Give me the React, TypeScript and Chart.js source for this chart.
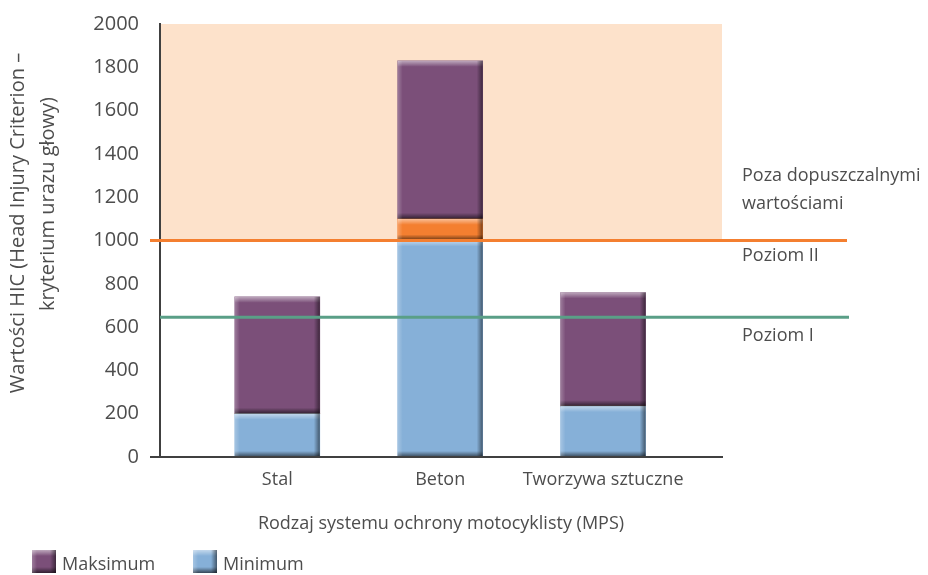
import React, { useEffect, useRef } from "react";
import { Chart, registerables } from "chart.js";

Chart.register(...registerables);

const categories = ["Stal", "Beton", "Tworzywa sztuczne"];
const minimumValues = [200, 1000, 235];
const exceedBand = [0, 100, 0];
const maximumValues = [740, 1830, 760];
const levelI = 645;
const levelII = 1000;
const yTicks = [0, 200, 400, 600, 800, 1000, 1200, 1400, 1600, 1800, 2000];

const FONT = "'Open Sans', 'Noto Sans', sans-serif";
const TEXT = "#4d4d4d";
const PURPLE = "#7b4f79";
const BLUE = "#86b0d8";
const ORANGE = "#f47f30";
const GREEN = "#5a9f87";
const SHADE = "#fde2cb";

function bevel(ctx: CanvasRenderingContext2D, l: number, t: number, r: number, b: number) {
  const h = b - t;
  const w = r - l;
  if (h <= 0 || w <= 0) return;
  const e = Math.min(6, h / 2);
  let g = ctx.createLinearGradient(0, t, 0, t + e);
  g.addColorStop(0, "rgba(255,255,255,0.5)");
  g.addColorStop(1, "rgba(255,255,255,0)");
  ctx.fillStyle = g;
  ctx.fillRect(l, t, w, e);
  g = ctx.createLinearGradient(0, b - e, 0, b);
  g.addColorStop(0, "rgba(0,0,0,0)");
  g.addColorStop(1, "rgba(0,0,0,0.6)");
  ctx.fillStyle = g;
  ctx.fillRect(l, b - e, w, e);
  g = ctx.createLinearGradient(r - 6, 0, r, 0);
  g.addColorStop(0, "rgba(0,0,0,0)");
  g.addColorStop(1, "rgba(0,0,0,0.5)");
  ctx.fillStyle = g;
  ctx.fillRect(r - 6, t, 6, h);
  g = ctx.createLinearGradient(l, 0, l + 5, 0);
  g.addColorStop(0, "rgba(255,255,255,0.25)");
  g.addColorStop(1, "rgba(255,255,255,0)");
  ctx.fillStyle = g;
  ctx.fillRect(l, t, 5, h);
}

const decorPlugin = {
  id: "decor",
  beforeDatasetsDraw(chart: any) {
    const { ctx, chartArea, scales } = chart;
    const y = scales.y;
    ctx.save();
    ctx.fillStyle = SHADE;
    const top = y.getPixelForValue(2000);
    const bot = y.getPixelForValue(levelII);
    ctx.fillRect(chartArea.left + 1, top, chartArea.right - chartArea.left - 1, bot - top);
    ctx.restore();
  },
  afterDatasetsDraw(chart: any) {
    const { ctx, chartArea, scales } = chart;
    const y = scales.y;
    ctx.save();
    chart.data.datasets.forEach((_: any, i: number) => {
      const meta = chart.getDatasetMeta(i);
      meta.data.forEach((bar: any) => {
        const p = bar.getProps(["x", "y", "base", "width"], true);
        const t = Math.min(p.y, p.base);
        const b = Math.max(p.y, p.base);
        bevel(ctx, p.x - p.width / 2, t, p.x + p.width / 2, b);
      });
    });
    const y0 = y.getPixelForValue(0);
    ctx.strokeStyle = "#404040";
    ctx.lineWidth = 2;
    ctx.beginPath();
    ctx.moveTo(150, y0);
    ctx.lineTo(chartArea.right + 1, y0);
    ctx.stroke();
    const yII = y.getPixelForValue(levelII);
    ctx.strokeStyle = ORANGE;
    ctx.lineWidth = 3;
    ctx.beginPath();
    ctx.moveTo(150, yII);
    ctx.lineTo(847, yII);
    ctx.stroke();
    const yI = y.getPixelForValue(levelI);
    ctx.strokeStyle = GREEN;
    ctx.beginPath();
    ctx.moveTo(chartArea.left, yI);
    ctx.lineTo(849, yI);
    ctx.stroke();
    ctx.restore();
  },
  afterDraw(chart: any) {
    const { ctx, chartArea } = chart;
    ctx.save();
    ctx.fillStyle = TEXT;
    ctx.font = `18px ${FONT}`;
    ctx.textBaseline = "middle";
    ctx.textAlign = "left";
    ctx.fillText("Poza dopuszczalnymi", 742, 176);
    ctx.fillText("wartościami", 742, 204);
    ctx.fillText("Poziom II", 742, 256);
    ctx.fillText("Poziom I", 742, 336);
    ctx.textAlign = "center";
    ctx.fillText("Rodzaj systemu ochrony motocyklisty (MPS)", (chartArea.left + chartArea.right) / 2, 524);
    ctx.font = `20px ${FONT}`;
    ctx.save();
    ctx.translate(18, 223);
    ctx.rotate(-Math.PI / 2);
    ctx.fillText("Wartości HIC (Head Injury Criterion –", 0, 0);
    ctx.restore();
    ctx.save();
    ctx.translate(48, 204);
    ctx.rotate(-Math.PI / 2);
    ctx.fillText("kryterium urazu głowy)", 0, 0);
    ctx.restore();
    ctx.font = `18px ${FONT}`;
    const items = [
      { label: "Maksimum", color: PURPLE, x: 32 },
      { label: "Minimum", color: BLUE, x: 193 },
    ];
    items.forEach((it) => {
      ctx.fillStyle = it.color;
      ctx.fillRect(it.x, 550, 24, 23);
      bevel(ctx, it.x, 550, it.x + 24, 573);
      ctx.fillStyle = TEXT;
      ctx.textAlign = "left";
      ctx.fillText(it.label, it.x + 30, 565);
    });
    ctx.restore();
  },
};

export default function App() {
  const ref = useRef<HTMLCanvasElement>(null);
  useEffect(() => {
    document.body.style.margin = "0";
    const canvas = ref.current;
    if (!canvas) return;
    const mk = (vals: number[]) => vals.map((v, i) => ({ x: i, y: v }));
    const maxSegment = maximumValues.map((v, i) => v - minimumValues[i] - exceedBand[i]);
    const chart = new Chart(canvas, {
      type: "bar",
      data: {
        datasets: [
          { label: "Minimum", data: mk(minimumValues), backgroundColor: BLUE, barThickness: 85 } as any,
          { label: "Przekroczenie", data: mk(exceedBand), backgroundColor: ORANGE, barThickness: 85 } as any,
          { label: "Maksimum", data: mk(maxSegment), backgroundColor: PURPLE, barThickness: 85 } as any,
        ],
      },
      options: {
        animation: false,
        responsive: false,
        layout: { padding: { top: 24, right: 206, left: 0, bottom: 0 } },
        plugins: { legend: { display: false }, tooltip: { enabled: false } },
        scales: {
          x: {
            type: "linear",
            stacked: true,
            offset: false,
            min: -0.72,
            max: 2.73,
            afterDataLimits: (s: any) => {
              s.min = -0.72;
              s.max = 2.73;
            },
            afterBuildTicks: (s: any) => {
              s.ticks = categories.map((_, i) => ({ value: i }));
            },
            afterFit: (s: any) => {
              s.height = 118;
            },
            grid: { display: false, drawTicks: false, offset: false },
            border: { display: false },
            ticks: {
              autoSkip: false,
              maxRotation: 0,
              padding: 12,
              color: TEXT,
              font: { family: FONT, size: 18 },
              callback: (v: any) => categories[v] ?? "",
            },
          },
          y: {
            stacked: true,
            min: 0,
            max: 2000,
            afterBuildTicks: (s: any) => {
              s.ticks = yTicks.map((v) => ({ value: v }));
            },
            afterFit: (s: any) => {
              s.width = 160;
            },
            grid: { display: false, drawTicks: true, tickLength: 18 },
            border: { display: true, color: "#404040", width: 2 },
            ticks: {
              padding: 3,
              color: TEXT,
              font: { family: FONT, size: 20 },
              callback: (v: any) => String(v),
            },
          },
        },
      },
      plugins: [decorPlugin],
    } as any);
    return () => chart.destroy();
  }, []);
  return <canvas ref={ref} width={928} height={575} style={{ display: "block" }} />;
}
